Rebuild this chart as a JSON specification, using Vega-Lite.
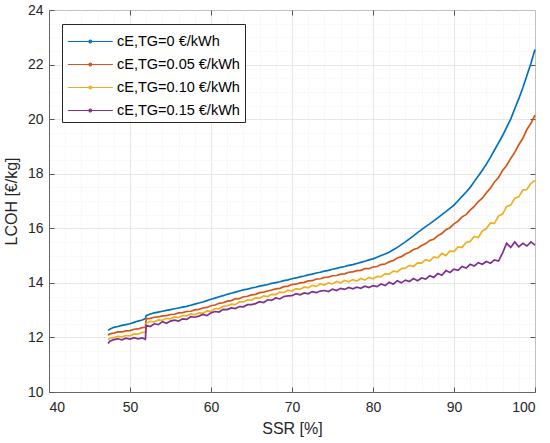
{
  "$schema": "https://vega.github.io/schema/vega-lite/v6.json",
  "width": 486,
  "height": 382,
  "autosize": {"type": "none"},
  "padding": {"left": 49, "top": 10, "right": 15, "bottom": 51},
  "data": {"values": [
    {"s":47.3,"c":"0","v":12.26},{"s":47.5,"c":"0","v":12.3},{"s":48,"c":"0","v":12.37},{"s":48.5,"c":"0","v":12.4},{"s":49,"c":"0","v":12.44},{"s":49.5,"c":"0","v":12.47},{"s":50,"c":"0","v":12.5},{"s":50.5,"c":"0","v":12.55},{"s":51,"c":"0","v":12.6},{"s":51.5,"c":"0","v":12.64},{"s":51.9,"c":"0","v":12.69},{"s":52,"c":"0","v":12.8},{"s":52.5,"c":"0","v":12.86},{"s":53,"c":"0","v":12.9},{"s":53.5,"c":"0","v":12.93},{"s":54,"c":"0","v":12.96},{"s":54.5,"c":"0","v":12.99},{"s":55,"c":"0","v":13.02},{"s":55.5,"c":"0","v":13.05},{"s":56,"c":"0","v":13.08},{"s":56.5,"c":"0","v":13.11},{"s":57,"c":"0","v":13.14},{"s":57.5,"c":"0","v":13.18},{"s":58,"c":"0","v":13.22},{"s":58.5,"c":"0","v":13.26},{"s":59,"c":"0","v":13.3},{"s":59.5,"c":"0","v":13.35},{"s":60,"c":"0","v":13.4},{"s":60.5,"c":"0","v":13.44},{"s":61,"c":"0","v":13.49},{"s":61.5,"c":"0","v":13.53},{"s":62,"c":"0","v":13.58},{"s":62.5,"c":"0","v":13.62},{"s":63,"c":"0","v":13.66},{"s":63.5,"c":"0","v":13.7},{"s":64,"c":"0","v":13.74},{"s":64.5,"c":"0","v":13.77},{"s":65,"c":"0","v":13.81},{"s":65.5,"c":"0","v":13.84},{"s":66,"c":"0","v":13.88},{"s":66.5,"c":"0","v":13.91},{"s":67,"c":"0","v":13.94},{"s":67.5,"c":"0","v":13.98},{"s":68,"c":"0","v":14.01},{"s":68.5,"c":"0","v":14.04},{"s":69,"c":"0","v":14.08},{"s":69.5,"c":"0","v":14.11},{"s":70,"c":"0","v":14.15},{"s":70.5,"c":"0","v":14.18},{"s":71,"c":"0","v":14.22},{"s":71.5,"c":"0","v":14.25},{"s":72,"c":"0","v":14.29},{"s":72.5,"c":"0","v":14.32},{"s":73,"c":"0","v":14.36},{"s":73.5,"c":"0","v":14.39},{"s":74,"c":"0","v":14.43},{"s":74.5,"c":"0","v":14.46},{"s":75,"c":"0","v":14.5},{"s":75.5,"c":"0","v":14.53},{"s":76,"c":"0","v":14.57},{"s":76.5,"c":"0","v":14.6},{"s":77,"c":"0","v":14.64},{"s":77.5,"c":"0","v":14.67},{"s":78,"c":"0","v":14.71},{"s":78.5,"c":"0","v":14.75},{"s":79,"c":"0","v":14.79},{"s":79.5,"c":"0","v":14.84},{"s":80,"c":"0","v":14.88},{"s":80.5,"c":"0","v":14.94},{"s":81,"c":"0","v":15.0},{"s":81.5,"c":"0","v":15.06},{"s":82,"c":"0","v":15.12},{"s":82.5,"c":"0","v":15.21},{"s":83,"c":"0","v":15.3},{"s":83.5,"c":"0","v":15.4},{"s":84,"c":"0","v":15.5},{"s":84.5,"c":"0","v":15.61},{"s":85,"c":"0","v":15.72},{"s":85.5,"c":"0","v":15.84},{"s":86,"c":"0","v":15.95},{"s":86.5,"c":"0","v":16.06},{"s":87,"c":"0","v":16.16},{"s":87.5,"c":"0","v":16.27},{"s":88,"c":"0","v":16.38},{"s":88.5,"c":"0","v":16.5},{"s":89,"c":"0","v":16.61},{"s":89.5,"c":"0","v":16.73},{"s":90,"c":"0","v":16.85},{"s":90.5,"c":"0","v":17.01},{"s":91,"c":"0","v":17.17},{"s":91.5,"c":"0","v":17.33},{"s":92,"c":"0","v":17.5},{"s":92.5,"c":"0","v":17.71},{"s":93,"c":"0","v":17.92},{"s":93.5,"c":"0","v":18.13},{"s":94,"c":"0","v":18.35},{"s":94.5,"c":"0","v":18.6},{"s":95,"c":"0","v":18.87},{"s":95.5,"c":"0","v":19.13},{"s":96,"c":"0","v":19.4},{"s":96.5,"c":"0","v":19.7},{"s":97,"c":"0","v":20.0},{"s":97.5,"c":"0","v":20.38},{"s":98,"c":"0","v":20.75},{"s":98.5,"c":"0","v":21.15},{"s":99,"c":"0","v":21.6},{"s":99.5,"c":"0","v":22.05},{"s":100,"c":"0","v":22.55},
    {"s":47.3,"c":"0.05","v":12.08},{"s":47.5,"c":"0.05","v":12.13},{"s":48,"c":"0.05","v":12.16},{"s":48.5,"c":"0.05","v":12.2},{"s":49,"c":"0.05","v":12.2},{"s":49.5,"c":"0.05","v":12.24},{"s":50,"c":"0.05","v":12.25},{"s":50.5,"c":"0.05","v":12.3},{"s":51,"c":"0.05","v":12.31},{"s":51.5,"c":"0.05","v":12.36},{"s":51.9,"c":"0.05","v":12.37},{"s":52,"c":"0.05","v":12.68},{"s":52.5,"c":"0.05","v":12.7},{"s":53,"c":"0.05","v":12.74},{"s":53.5,"c":"0.05","v":12.75},{"s":54,"c":"0.05","v":12.79},{"s":54.5,"c":"0.05","v":12.8},{"s":55,"c":"0.05","v":12.84},{"s":55.5,"c":"0.05","v":12.85},{"s":56,"c":"0.05","v":12.9},{"s":56.5,"c":"0.05","v":12.91},{"s":57,"c":"0.05","v":12.95},{"s":57.5,"c":"0.05","v":12.96},{"s":58,"c":"0.05","v":13.01},{"s":58.5,"c":"0.05","v":13.03},{"s":59,"c":"0.05","v":13.08},{"s":59.5,"c":"0.05","v":13.1},{"s":60,"c":"0.05","v":13.16},{"s":60.5,"c":"0.05","v":13.19},{"s":61,"c":"0.05","v":13.25},{"s":61.5,"c":"0.05","v":13.27},{"s":62,"c":"0.05","v":13.33},{"s":62.5,"c":"0.05","v":13.35},{"s":63,"c":"0.05","v":13.41},{"s":63.5,"c":"0.05","v":13.42},{"s":64,"c":"0.05","v":13.49},{"s":64.5,"c":"0.05","v":13.51},{"s":65,"c":"0.05","v":13.56},{"s":65.5,"c":"0.05","v":13.58},{"s":66,"c":"0.05","v":13.64},{"s":66.5,"c":"0.05","v":13.66},{"s":67,"c":"0.05","v":13.7},{"s":67.5,"c":"0.05","v":13.74},{"s":68,"c":"0.05","v":13.78},{"s":68.5,"c":"0.05","v":13.8},{"s":69,"c":"0.05","v":13.86},{"s":69.5,"c":"0.05","v":13.88},{"s":70,"c":"0.05","v":13.94},{"s":70.5,"c":"0.05","v":13.95},{"s":71,"c":"0.05","v":14.0},{"s":71.5,"c":"0.05","v":14.02},{"s":72,"c":"0.05","v":14.07},{"s":72.5,"c":"0.05","v":14.08},{"s":73,"c":"0.05","v":14.14},{"s":73.5,"c":"0.05","v":14.15},{"s":74,"c":"0.05","v":14.2},{"s":74.5,"c":"0.05","v":14.21},{"s":75,"c":"0.05","v":14.26},{"s":75.5,"c":"0.05","v":14.27},{"s":76,"c":"0.05","v":14.32},{"s":76.5,"c":"0.05","v":14.33},{"s":77,"c":"0.05","v":14.39},{"s":77.5,"c":"0.05","v":14.4},{"s":78,"c":"0.05","v":14.45},{"s":78.5,"c":"0.05","v":14.46},{"s":79,"c":"0.05","v":14.52},{"s":79.5,"c":"0.05","v":14.52},{"s":80,"c":"0.05","v":14.58},{"s":80.5,"c":"0.05","v":14.6},{"s":81,"c":"0.05","v":14.67},{"s":81.5,"c":"0.05","v":14.69},{"s":82,"c":"0.05","v":14.77},{"s":82.5,"c":"0.05","v":14.82},{"s":83,"c":"0.05","v":14.91},{"s":83.5,"c":"0.05","v":14.96},{"s":84,"c":"0.05","v":15.06},{"s":84.5,"c":"0.05","v":15.12},{"s":85,"c":"0.05","v":15.22},{"s":85.5,"c":"0.05","v":15.27},{"s":86,"c":"0.05","v":15.37},{"s":86.5,"c":"0.05","v":15.44},{"s":87,"c":"0.05","v":15.55},{"s":87.5,"c":"0.05","v":15.6},{"s":88,"c":"0.05","v":15.73},{"s":88.5,"c":"0.05","v":15.81},{"s":89,"c":"0.05","v":15.95},{"s":89.5,"c":"0.05","v":16.02},{"s":90,"c":"0.05","v":16.16},{"s":90.5,"c":"0.05","v":16.26},{"s":91,"c":"0.05","v":16.42},{"s":91.5,"c":"0.05","v":16.5},{"s":92,"c":"0.05","v":16.67},{"s":92.5,"c":"0.05","v":16.8},{"s":93,"c":"0.05","v":16.98},{"s":93.5,"c":"0.05","v":17.1},{"s":94,"c":"0.05","v":17.3},{"s":94.5,"c":"0.05","v":17.47},{"s":95,"c":"0.05","v":17.7},{"s":95.5,"c":"0.05","v":17.86},{"s":96,"c":"0.05","v":18.12},{"s":96.5,"c":"0.05","v":18.3},{"s":97,"c":"0.05","v":18.56},{"s":97.5,"c":"0.05","v":18.78},{"s":98,"c":"0.05","v":19.06},{"s":98.5,"c":"0.05","v":19.3},{"s":99,"c":"0.05","v":19.62},{"s":99.5,"c":"0.05","v":19.85},{"s":100,"c":"0.05","v":20.15},
    {"s":47.3,"c":"0.10","v":11.92},{"s":47.5,"c":"0.10","v":11.97},{"s":48,"c":"0.10","v":11.99},{"s":48.5,"c":"0.10","v":12.04},{"s":49,"c":"0.10","v":12.02},{"s":49.5,"c":"0.10","v":12.07},{"s":50,"c":"0.10","v":12.06},{"s":50.5,"c":"0.10","v":12.13},{"s":51,"c":"0.10","v":12.12},{"s":51.5,"c":"0.10","v":12.19},{"s":51.9,"c":"0.10","v":12.18},{"s":52,"c":"0.10","v":12.52},{"s":52.5,"c":"0.10","v":12.59},{"s":53,"c":"0.10","v":12.57},{"s":53.5,"c":"0.10","v":12.64},{"s":54,"c":"0.10","v":12.63},{"s":54.5,"c":"0.10","v":12.7},{"s":55,"c":"0.10","v":12.68},{"s":55.5,"c":"0.10","v":12.75},{"s":56,"c":"0.10","v":12.73},{"s":56.5,"c":"0.10","v":12.8},{"s":57,"c":"0.10","v":12.79},{"s":57.5,"c":"0.10","v":12.86},{"s":58,"c":"0.10","v":12.83},{"s":58.5,"c":"0.10","v":12.9},{"s":59,"c":"0.10","v":12.89},{"s":59.5,"c":"0.10","v":12.97},{"s":60,"c":"0.10","v":12.96},{"s":60.5,"c":"0.10","v":13.06},{"s":61,"c":"0.10","v":13.05},{"s":61.5,"c":"0.10","v":13.14},{"s":62,"c":"0.10","v":13.16},{"s":62.5,"c":"0.10","v":13.22},{"s":63,"c":"0.10","v":13.2},{"s":63.5,"c":"0.10","v":13.3},{"s":64,"c":"0.10","v":13.3},{"s":64.5,"c":"0.10","v":13.38},{"s":65,"c":"0.10","v":13.37},{"s":65.5,"c":"0.10","v":13.45},{"s":66,"c":"0.10","v":13.44},{"s":66.5,"c":"0.10","v":13.52},{"s":67,"c":"0.10","v":13.5},{"s":67.5,"c":"0.10","v":13.58},{"s":68,"c":"0.10","v":13.57},{"s":68.5,"c":"0.10","v":13.66},{"s":69,"c":"0.10","v":13.64},{"s":69.5,"c":"0.10","v":13.73},{"s":70,"c":"0.10","v":13.7},{"s":70.5,"c":"0.10","v":13.79},{"s":71,"c":"0.10","v":13.76},{"s":71.5,"c":"0.10","v":13.85},{"s":72,"c":"0.10","v":13.82},{"s":72.5,"c":"0.10","v":13.91},{"s":73,"c":"0.10","v":13.87},{"s":73.5,"c":"0.10","v":13.96},{"s":74,"c":"0.10","v":13.92},{"s":74.5,"c":"0.10","v":14.0},{"s":75,"c":"0.10","v":13.96},{"s":75.5,"c":"0.10","v":14.05},{"s":76,"c":"0.10","v":14.0},{"s":76.5,"c":"0.10","v":14.09},{"s":77,"c":"0.10","v":14.04},{"s":77.5,"c":"0.10","v":14.12},{"s":78,"c":"0.10","v":14.07},{"s":78.5,"c":"0.10","v":14.16},{"s":79,"c":"0.10","v":14.1},{"s":79.5,"c":"0.10","v":14.2},{"s":80,"c":"0.10","v":14.15},{"s":80.5,"c":"0.10","v":14.24},{"s":81,"c":"0.10","v":14.23},{"s":81.5,"c":"0.10","v":14.33},{"s":82,"c":"0.10","v":14.32},{"s":82.5,"c":"0.10","v":14.43},{"s":83,"c":"0.10","v":14.4},{"s":83.5,"c":"0.10","v":14.52},{"s":84,"c":"0.10","v":14.54},{"s":84.5,"c":"0.10","v":14.64},{"s":85,"c":"0.10","v":14.6},{"s":85.5,"c":"0.10","v":14.73},{"s":86,"c":"0.10","v":14.72},{"s":86.5,"c":"0.10","v":14.85},{"s":87,"c":"0.10","v":14.8},{"s":87.5,"c":"0.10","v":14.95},{"s":88,"c":"0.10","v":14.92},{"s":88.5,"c":"0.10","v":15.08},{"s":89,"c":"0.10","v":15.0},{"s":89.5,"c":"0.10","v":15.17},{"s":90,"c":"0.10","v":15.15},{"s":90.5,"c":"0.10","v":15.32},{"s":91,"c":"0.10","v":15.3},{"s":91.5,"c":"0.10","v":15.48},{"s":92,"c":"0.10","v":15.52},{"s":92.5,"c":"0.10","v":15.7},{"s":93,"c":"0.10","v":15.66},{"s":93.5,"c":"0.10","v":15.9},{"s":94,"c":"0.10","v":15.98},{"s":94.5,"c":"0.10","v":16.2},{"s":95,"c":"0.10","v":16.18},{"s":95.5,"c":"0.10","v":16.45},{"s":96,"c":"0.10","v":16.52},{"s":96.5,"c":"0.10","v":16.8},{"s":97,"c":"0.10","v":16.85},{"s":97.5,"c":"0.10","v":17.1},{"s":98,"c":"0.10","v":17.15},{"s":98.5,"c":"0.10","v":17.4},{"s":99,"c":"0.10","v":17.42},{"s":99.5,"c":"0.10","v":17.65},{"s":100,"c":"0.10","v":17.75},
    {"s":47.3,"c":"0.15","v":11.78},{"s":47.5,"c":"0.15","v":11.86},{"s":48,"c":"0.15","v":11.92},{"s":48.5,"c":"0.15","v":11.95},{"s":49,"c":"0.15","v":11.91},{"s":49.5,"c":"0.15","v":11.97},{"s":50,"c":"0.15","v":11.94},{"s":50.5,"c":"0.15","v":11.99},{"s":51,"c":"0.15","v":11.95},{"s":51.5,"c":"0.15","v":11.98},{"s":51.9,"c":"0.15","v":11.93},{"s":52,"c":"0.15","v":12.44},{"s":52.5,"c":"0.15","v":12.4},{"s":53,"c":"0.15","v":12.5},{"s":53.5,"c":"0.15","v":12.47},{"s":54,"c":"0.15","v":12.58},{"s":54.5,"c":"0.15","v":12.52},{"s":55,"c":"0.15","v":12.6},{"s":55.5,"c":"0.15","v":12.63},{"s":56,"c":"0.15","v":12.6},{"s":56.5,"c":"0.15","v":12.68},{"s":57,"c":"0.15","v":12.66},{"s":57.5,"c":"0.15","v":12.76},{"s":58,"c":"0.15","v":12.74},{"s":58.5,"c":"0.15","v":12.78},{"s":59,"c":"0.15","v":12.84},{"s":59.5,"c":"0.15","v":12.8},{"s":60,"c":"0.15","v":12.9},{"s":60.5,"c":"0.15","v":12.95},{"s":61,"c":"0.15","v":12.93},{"s":61.5,"c":"0.15","v":13.03},{"s":62,"c":"0.15","v":13.02},{"s":62.5,"c":"0.15","v":13.08},{"s":63,"c":"0.15","v":13.06},{"s":63.5,"c":"0.15","v":13.13},{"s":64,"c":"0.15","v":13.12},{"s":64.5,"c":"0.15","v":13.2},{"s":65,"c":"0.15","v":13.2},{"s":65.5,"c":"0.15","v":13.24},{"s":66,"c":"0.15","v":13.31},{"s":66.5,"c":"0.15","v":13.28},{"s":67,"c":"0.15","v":13.38},{"s":67.5,"c":"0.15","v":13.36},{"s":68,"c":"0.15","v":13.45},{"s":68.5,"c":"0.15","v":13.41},{"s":69,"c":"0.15","v":13.5},{"s":69.5,"c":"0.15","v":13.52},{"s":70,"c":"0.15","v":13.53},{"s":70.5,"c":"0.15","v":13.6},{"s":71,"c":"0.15","v":13.56},{"s":71.5,"c":"0.15","v":13.63},{"s":72,"c":"0.15","v":13.6},{"s":72.5,"c":"0.15","v":13.68},{"s":73,"c":"0.15","v":13.64},{"s":73.5,"c":"0.15","v":13.7},{"s":74,"c":"0.15","v":13.72},{"s":74.5,"c":"0.15","v":13.68},{"s":75,"c":"0.15","v":13.77},{"s":75.5,"c":"0.15","v":13.72},{"s":76,"c":"0.15","v":13.8},{"s":76.5,"c":"0.15","v":13.76},{"s":77,"c":"0.15","v":13.83},{"s":77.5,"c":"0.15","v":13.78},{"s":78,"c":"0.15","v":13.84},{"s":78.5,"c":"0.15","v":13.8},{"s":79,"c":"0.15","v":13.88},{"s":79.5,"c":"0.15","v":13.83},{"s":80,"c":"0.15","v":13.9},{"s":80.5,"c":"0.15","v":13.86},{"s":81,"c":"0.15","v":13.96},{"s":81.5,"c":"0.15","v":13.9},{"s":82,"c":"0.15","v":14.02},{"s":82.5,"c":"0.15","v":13.95},{"s":83,"c":"0.15","v":14.08},{"s":83.5,"c":"0.15","v":14.0},{"s":84,"c":"0.15","v":14.1},{"s":84.5,"c":"0.15","v":14.05},{"s":85,"c":"0.15","v":14.16},{"s":85.5,"c":"0.15","v":14.08},{"s":86,"c":"0.15","v":14.18},{"s":86.5,"c":"0.15","v":14.14},{"s":87,"c":"0.15","v":14.26},{"s":87.5,"c":"0.15","v":14.2},{"s":88,"c":"0.15","v":14.34},{"s":88.5,"c":"0.15","v":14.28},{"s":89,"c":"0.15","v":14.45},{"s":89.5,"c":"0.15","v":14.38},{"s":90,"c":"0.15","v":14.5},{"s":90.5,"c":"0.15","v":14.46},{"s":91,"c":"0.15","v":14.6},{"s":91.5,"c":"0.15","v":14.54},{"s":92,"c":"0.15","v":14.68},{"s":92.5,"c":"0.15","v":14.62},{"s":93,"c":"0.15","v":14.74},{"s":93.5,"c":"0.15","v":14.68},{"s":94,"c":"0.15","v":14.78},{"s":94.5,"c":"0.15","v":14.72},{"s":95,"c":"0.15","v":14.84},{"s":95.5,"c":"0.15","v":14.8},{"s":96,"c":"0.15","v":15.1},{"s":96.5,"c":"0.15","v":15.45},{"s":97,"c":"0.15","v":15.3},{"s":97.5,"c":"0.15","v":15.5},{"s":98,"c":"0.15","v":15.32},{"s":98.5,"c":"0.15","v":15.45},{"s":99,"c":"0.15","v":15.35},{"s":99.5,"c":"0.15","v":15.5},{"s":100,"c":"0.15","v":15.38}
  ]},
  "layer": [
    {
      "mark": {"type": "point", "opacity": 0},
      "encoding": {
        "x": {"field": "s", "type": "quantitative", "scale": {"domain": [40, 100], "nice": false},
          "axis": {"orient": "top", "values": [50, 60, 70, 80, 90], "labels": false, "grid": false, "domain": false, "tickSize": -5, "title": null}},
        "y": {"field": "v", "type": "quantitative", "scale": {"domain": [10, 24], "nice": false, "zero": false},
          "axis": {"orient": "right", "values": [12, 14, 16, 18, 20, 22], "labels": false, "grid": false, "domain": false, "tickSize": -5, "title": null}}
      }
    },
    {
      "mark": {"type": "line", "strokeWidth": 1.7},
      "encoding": {
        "x": {"field": "s", "type": "quantitative",
          "axis": {
            "title": "SSR [%]",
            "values": [40,42,44,46,48,50,52,54,56,58,60,62,64,66,68,70,72,74,76,78,80,82,84,86,88,90,92,94,96,98,100],
            "grid": true,
            "gridColor": {"condition": {"test": "datum.value % 10 === 0", "value": "#dedede"}, "value": "#ececec"},
            "gridDash": {"condition": {"test": "datum.value % 10 === 0", "value": [1, 0]}, "value": [1, 2]},
            "tickOpacity": {"condition": {"test": "datum.value % 10 === 0", "value": 1}, "value": 0},
            "labelExpr": "datum.value % 10 === 0 ? format(datum.value, 'd') : ''",
            "tickSize": -5,
            "labelPadding": 13,
            "titlePadding": 6
          }},
        "y": {"field": "v", "type": "quantitative",
          "axis": {
            "title": "LCOH [€/kg]",
            "values": [10,10.5,11,11.5,12,12.5,13,13.5,14,14.5,15,15.5,16,16.5,17,17.5,18,18.5,19,19.5,20,20.5,21,21.5,22,22.5,23,23.5,24],
            "grid": true,
            "gridColor": {"condition": {"test": "datum.value % 2 === 0", "value": "#dedede"}, "value": "#ececec"},
            "gridDash": {"condition": {"test": "datum.value % 2 === 0", "value": [1, 0]}, "value": [1, 2]},
            "tickOpacity": {"condition": {"test": "datum.value % 2 === 0", "value": 1}, "value": 0},
            "labelExpr": "datum.value % 2 === 0 ? format(datum.value, 'd') : ''",
            "tickSize": -5,
            "labelPadding": 11,
            "titlePadding": 8
          }},
        "color": {"field": "c", "type": "nominal",
          "scale": {"domain": ["0", "0.05", "0.10", "0.15"], "range": ["#0072BD", "#D95319", "#EDB120", "#7E2F8E"]},
          "legend": {
            "orient": "none", "legendX": 13, "legendY": 14, "title": null,
            "labelExpr": "'cE,TG=' + datum.label + ' €/kWh'",
            "symbolType": "M-1,0H2.85M0.925,0m-0.12,0a0.12,0.12 0 1,0 0.24,0a0.12,0.12 0 1,0 -0.24,0",
            "symbolSize": 548,
            "symbolStrokeWidth": 1.2,
            "labelOffset": 25,
            "labelFontSize": 14.5,
            "labelColor": "#000000",
            "rowPadding": 4,
            "padding": 5,
            "fillColor": "#ffffff",
            "strokeColor": "#262626"
          }}
      }
    }
  ],
  "resolve": {"axis": {"x": "independent", "y": "independent"}},
  "config": {
    "font": "Liberation Sans",
    "axis": {"labelFontSize": 14, "titleFontSize": 16, "titleFontWeight": "normal", "labelColor": "#262626", "titleColor": "#262626", "domainColor": "#666666", "tickColor": "#555555", "labelFont": "Liberation Sans", "titleFont": "Liberation Sans"},
    "legend": {"labelFont": "Liberation Sans"},
    "view": {"stroke": "#666666"}
  }
}
